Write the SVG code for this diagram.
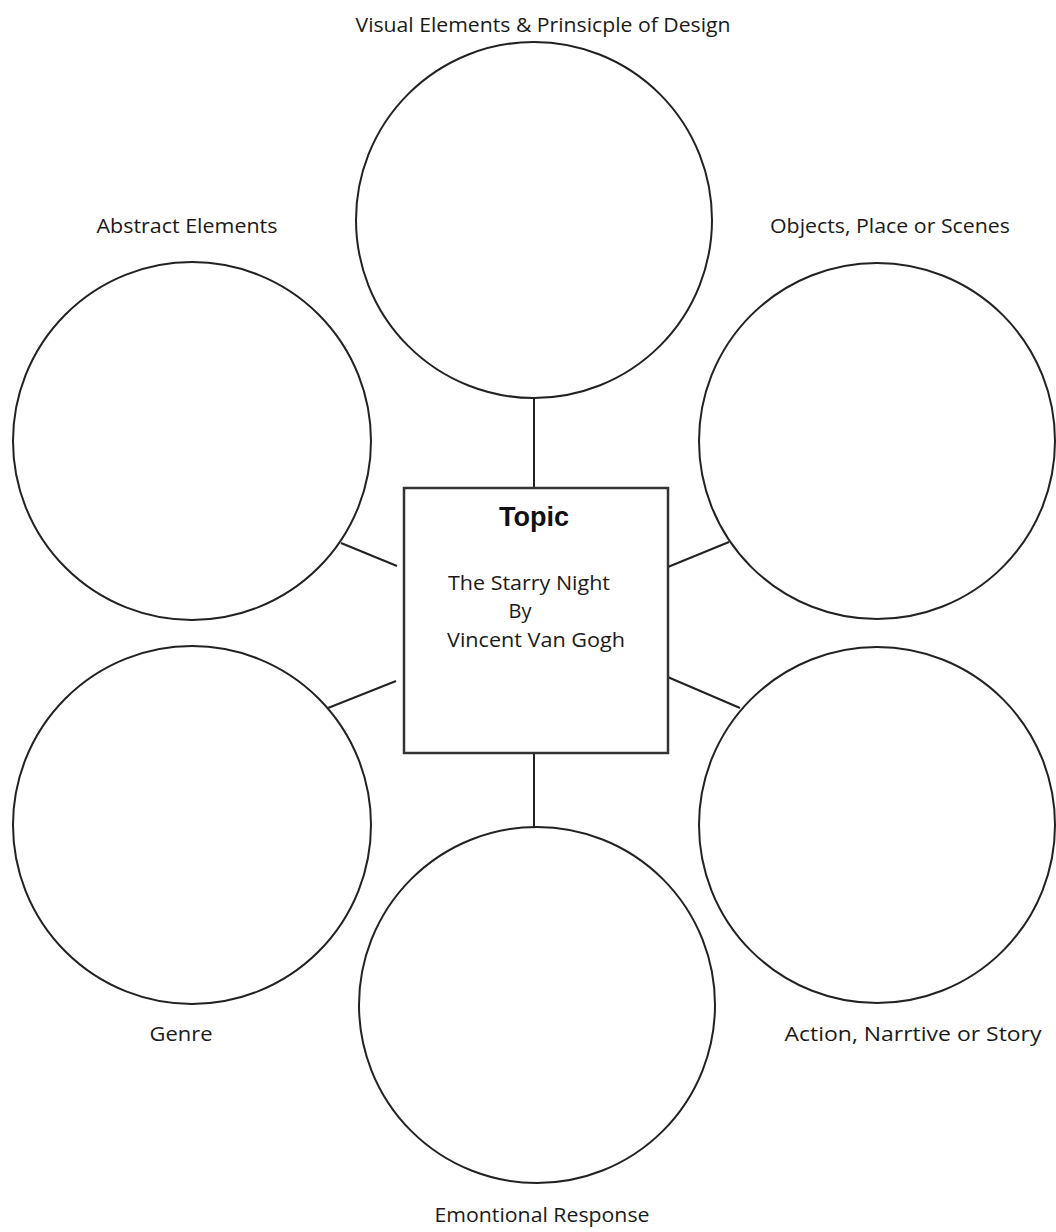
<svg xmlns="http://www.w3.org/2000/svg" width="1056" height="1232" viewBox="0 0 1056 1232">
<style>
.c{fill:#fff;stroke:#222;stroke-width:2}
.b{fill:#fff;stroke:#333;stroke-width:2.5}
.l{stroke:#222;stroke-width:2;fill:none}
.t{font-family:"Open Sans","Noto Sans",sans-serif;font-size:20px;fill:#1a1a1a;text-anchor:middle}
.h{font-family:"Liberation Sans",Arial,sans-serif;font-size:27px;font-weight:bold;fill:#111;text-anchor:middle}
</style>
<rect width="1056" height="1232" fill="#fff"/>
<g id="connectors">
<line class="l" x1="534" y1="398" x2="534" y2="488"/>
<line class="l" x1="534" y1="753" x2="534" y2="827"/>
<line class="l" x1="341" y1="543" x2="397" y2="566"/>
<line class="l" x1="396" y1="681" x2="328" y2="708"/>
<line class="l" x1="663" y1="569" x2="729" y2="542"/>
<line class="l" x1="663" y1="675" x2="740" y2="708"/>
</g>
<g id="top"><circle class="c" cx="534" cy="220" r="178"/><text class="t" x="543" y="32" textLength="375" lengthAdjust="spacingAndGlyphs">Visual Elements &amp; Prinsicple of Design</text></g>
<g id="abstract"><circle class="c" cx="192" cy="441" r="179"/><text class="t" x="187" y="233" textLength="181" lengthAdjust="spacingAndGlyphs">Abstract Elements</text></g>
<g id="objects"><circle class="c" cx="877" cy="441" r="178"/><text class="t" x="890" y="233" textLength="240" lengthAdjust="spacingAndGlyphs">Objects, Place or Scenes</text></g>
<g id="genre"><circle class="c" cx="192" cy="825" r="179"/><text class="t" x="181" y="1041" textLength="63" lengthAdjust="spacingAndGlyphs">Genre</text></g>
<g id="action"><circle class="c" cx="877" cy="825" r="178"/><text class="t" x="913" y="1041" textLength="257" lengthAdjust="spacingAndGlyphs">Action, Narrtive or Story</text></g>
<g id="emotion"><circle class="c" cx="537" cy="1005" r="178"/><text class="t" x="542" y="1222" textLength="215" lengthAdjust="spacingAndGlyphs">Emontional Response</text></g>
<g id="topic">
<rect class="b" x="404" y="488" width="264" height="265"/>
<text class="h" x="534" y="526">Topic</text>
<text class="t" x="529" y="590" textLength="162" lengthAdjust="spacingAndGlyphs">The Starry Night</text>
<text class="t" x="520" y="618">By</text>
<text class="t" x="536" y="647" textLength="178" lengthAdjust="spacingAndGlyphs">Vincent Van Gogh</text>
</g>
</svg>
